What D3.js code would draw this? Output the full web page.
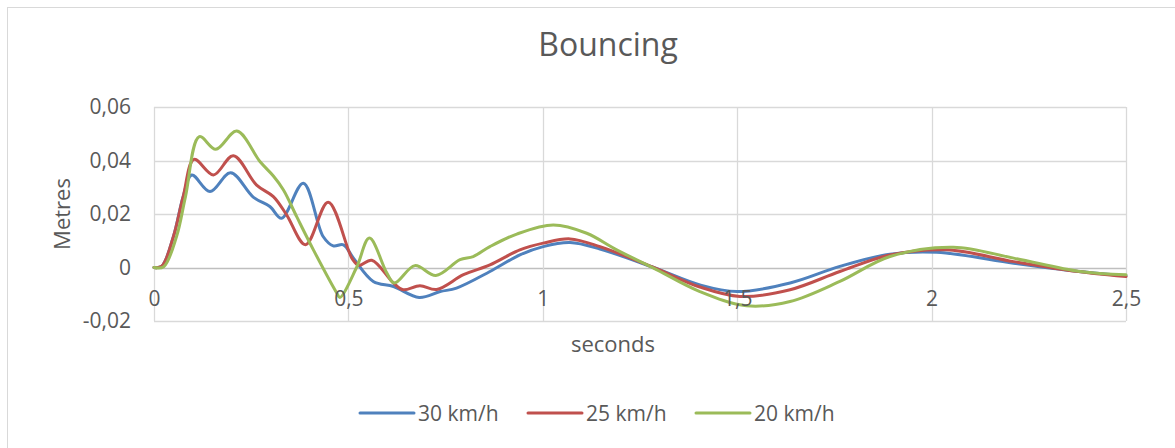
<!DOCTYPE html>
<html>
<head>
<meta charset="utf-8">
<script src="https://cdn.jsdelivr.net/npm/d3@7"></script>
<style>
  html, body { margin: 0; padding: 0; background: #fff; overflow: hidden; }
  svg text { font-family: "Open Sans", "Noto Sans", sans-serif; fill: #595959; }
</style>
</head>
<body>
<svg id="chart" width="1175" height="448"></svg>
<script>
// Vertical displacement (m) over time (s) for three impact speeds
const time30 = [0, 0.02, 0.05, 0.075, 0.097, 0.144, 0.197, 0.256, 0.298, 0.328, 0.384, 0.435, 0.461, 0.487, 0.513, 0.564, 0.616, 0.682, 0.736, 0.778, 0.864, 0.941, 1.001, 1.070, 1.147, 1.285, 1.404, 1.499, 1.636, 1.764, 1.893, 2.013, 2.211, 2.35, 2.5];
const bounce30 = [0, 0.0005, 0.0116, 0.0265, 0.0346, 0.0284, 0.0354, 0.0262, 0.0228, 0.0184, 0.0315, 0.0116, 0.0081, 0.0085, 0.0035, -0.0052, -0.0071, -0.0112, -0.009, -0.0077, -0.0015, 0.0047, 0.0078, 0.0093, 0.0069, 0, -0.0065, -0.009, -0.0058, 0.0004, 0.005, 0.0057, 0.0016, -0.001, -0.0031];

const time25 = [0, 0.02, 0.05, 0.075, 0.103, 0.153, 0.204, 0.264, 0.307, 0.341, 0.390, 0.448, 0.510, 0.527, 0.560, 0.616, 0.641, 0.684, 0.727, 0.796, 0.864, 0.941, 1.001, 1.070, 1.147, 1.285, 1.404, 1.507, 1.636, 1.764, 1.893, 2.039, 2.211, 2.35, 2.5];
const bounce25 = [0, 0.0005, 0.0116, 0.0265, 0.0404, 0.0346, 0.0418, 0.0308, 0.0265, 0.0197, 0.0085, 0.0244, 0.0032, 0.0008, 0.0027, -0.0058, -0.0083, -0.0068, -0.0082, -0.0027, 0.001, 0.0066, 0.0091, 0.0107, 0.0078, 0, -0.0073, -0.0108, -0.0083, -0.0015, 0.0047, 0.0066, 0.0022, -0.001, -0.0034];

const time20 = [0, 0.025, 0.058, 0.081, 0.1165, 0.159, 0.213, 0.273, 0.307, 0.333, 0.367, 0.410, 0.470, 0.478, 0.521, 0.554, 0.599, 0.618, 0.671, 0.725, 0.787, 0.821, 0.864, 0.933, 1.027, 1.113, 1.190, 1.285, 1.404, 1.524, 1.636, 1.764, 1.893, 2.056, 2.211, 2.382, 2.5];
const bounce20 = [0, 0.0003, 0.0116, 0.0265, 0.0489, 0.0442, 0.0510, 0.0395, 0.0342, 0.029, 0.019, 0.0066, -0.0095, -0.0112, 0, 0.011, -0.0021, -0.0058, 0.0007, -0.003, 0.0029, 0.0041, 0.0078, 0.0125, 0.0159, 0.0128, 0.0066, -0.0002, -0.009, -0.0143, -0.0127, -0.0052, 0.0041, 0.0076, 0.0035, -0.0015, -0.0027];

const seriesNames = ["30 km/h", "25 km/h", "20 km/h"];
const seriesColors = ["#4F81BD", "#C0504D", "#9BBB59"];
const xTicks = [0, 0.5, 1, 1.5, 2, 2.5];
const yTicks = [-0.02, 0, 0.02, 0.04, 0.06];

const series = [
  { name: seriesNames[0], color: seriesColors[0], t: time30, v: bounce30 },
  { name: seriesNames[1], color: seriesColors[1], t: time25, v: bounce25 },
  { name: seriesNames[2], color: seriesColors[2], t: time20, v: bounce20 }
];

const svg = d3.select("#chart");
const comma = d => String(d).replace(".", ",");
const fmtY = d => d === 0 ? "0" : d3.format(".2f")(d).replace(".", ",").replace("−", "-");

// Chart frame (runs past the right and bottom edges)
svg.append("rect")
  .attr("x", 7.5).attr("y", 7.5).attr("width", 1200).attr("height", 460)
  .attr("fill", "#fff").attr("stroke", "#d9d9d9");

const plot = { left: 154, right: 1126, top: 107, bottom: 321 };
const x = d3.scaleLinear().domain([0, 2.5]).range([plot.left, plot.right]);
const y = d3.scaleLinear().domain([-0.02, 0.06]).range([plot.bottom, plot.top]);

// Gridlines
const grid = svg.append("g");
grid.selectAll("line.h").data(yTicks).join("line")
  .attr("x1", plot.left).attr("x2", plot.right)
  .attr("y1", d => Math.round(y(d)) + 0.5).attr("y2", d => Math.round(y(d)) + 0.5)
  .attr("stroke", d => d === 0 ? "#bfbfbf" : "#d9d9d9").attr("stroke-width", 1.3);
grid.selectAll("line.v").data(xTicks).join("line")
  .attr("y1", plot.top).attr("y2", plot.bottom)
  .attr("x1", d => Math.round(x(d)) + 0.5).attr("x2", d => Math.round(x(d)) + 0.5)
  .attr("stroke", "#d9d9d9").attr("stroke-width", 1.3);

// Series lines
const line = d3.line().curve(d3.curveCatmullRom.alpha(0.5));
svg.append("g").selectAll("path").data(series).join("path")
  .attr("d", s => line(s.t.map((t, i) => [x(t), y(s.v[i])])))
  .attr("fill", "none").attr("stroke", s => s.color)
  .attr("stroke-width", 3).attr("stroke-linejoin", "round").attr("stroke-linecap", "round");

// Y axis labels
const yAxis = svg.append("g").attr("transform", `translate(${plot.left - 23},0)`)
  .call(d3.axisLeft(y).tickValues(yTicks).tickFormat(fmtY).tickSize(0).tickPadding(0));
yAxis.select(".domain").remove();
yAxis.selectAll("text").attr("font-size", 21).attr("fill", "#595959")
  .style("font-family", "'Open Sans', sans-serif");

// X axis labels, hung from the zero line and drawn over the curves
const xAxis = svg.append("g").attr("transform", `translate(0,${y(0)})`)
  .call(d3.axisBottom(x).tickValues(xTicks).tickFormat(comma).tickSize(0).tickPadding(24));
xAxis.select(".domain").remove();
xAxis.selectAll("text").attr("font-size", 21).attr("fill", "#595959")
  .style("font-family", "'Open Sans', sans-serif");

// Titles
svg.append("text").attr("x", 608).attr("y", 56).attr("text-anchor", "middle")
  .attr("font-size", 32).text("Bouncing");
svg.append("text").attr("x", 613).attr("y", 352).attr("text-anchor", "middle")
  .attr("font-size", 22).text("seconds");
svg.append("text").attr("transform", "translate(70,214) rotate(-90)")
  .attr("text-anchor", "middle").attr("font-size", 22).text("Metres");

// Legend
const legend = svg.append("g").selectAll("g").data(series).join("g")
  .attr("transform", (d, i) => `translate(${360 + i * 168},413)`);
legend.append("line").attr("x1", 0).attr("x2", 54).attr("y1", 0).attr("y2", 0)
  .attr("stroke", d => d.color).attr("stroke-width", 3).attr("stroke-linecap", "round");
legend.append("text").attr("x", 58).attr("y", 7.5).attr("font-size", 21).text(d => d.name);
</script>
</body>
</html>
